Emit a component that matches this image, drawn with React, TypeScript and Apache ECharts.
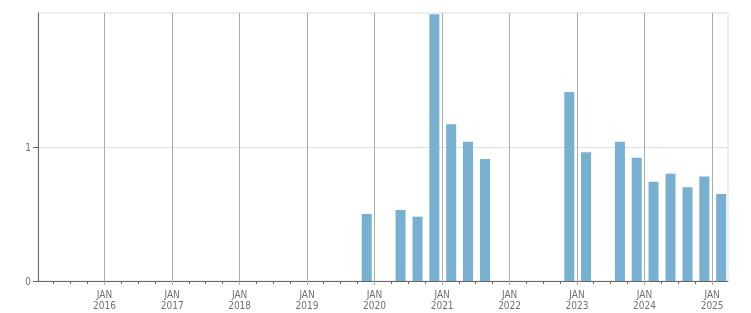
import React, { useEffect, useRef } from "react";
import * as echarts from "echarts";

const barDates = [
  "2019-11-20", "2020-05-21", "2020-08-21", "2020-11-20", "2021-02-19",
  "2021-05-21", "2021-08-21", "2022-11-20", "2023-02-19", "2023-08-21",
  "2023-11-20", "2024-02-19", "2024-05-21", "2024-08-21", "2024-11-20",
  "2025-02-19",
];
const barValues = [
  0.5, 0.53, 0.48, 1.99, 1.17, 1.04, 0.91, 1.41, 0.96, 1.04, 0.92, 0.74,
  0.8, 0.7, 0.78, 0.65,
];
const yearTicks = [2016, 2017, 2018, 2019, 2020, 2021, 2022, 2023, 2024, 2025];
const quarterMonths = [4, 7, 10];
const yTicks = [0, 1];
const axisMin = "2015-01-06";
const axisMax = "2025-03-28";

const toTs = (s: string) => {
  const [y, m, d] = s.split("-").map(Number);
  return new Date(y, m - 1, d).getTime();
};

export default function App() {
  const ref = useRef<HTMLDivElement>(null);
  useEffect(() => {
    if (!ref.current) return;
    const chart = echarts.init(ref.current, undefined, { renderer: "svg" });
    const minTs = toTs(axisMin);
    const maxTs = toTs(axisMax);
    const janTs = yearTicks.map((y) => new Date(y, 0, 1).getTime());
    const quarterTs: number[] = [];
    for (let y = 2015; y <= 2025; y++) {
      quarterMonths.forEach((m) => {
        const t = new Date(y, m - 1, 1).getTime();
        if (t > minTs && t < maxTs) quarterTs.push(t);
      });
    }
    const font = "'DejaVu Sans Condensed', 'DejaVu Sans', sans-serif";
    chart.setOption({
      animation: false,
      grid: {
        left: 38,
        right: 23,
        top: 13,
        bottom: 32,
        show: true,
        borderColor: "#dddddd",
        borderWidth: 1,
        backgroundColor: "transparent",
        containLabel: false,
      },
      xAxis: [
        {
          type: "value",
          min: minTs,
          max: maxTs,
          axisLine: { show: true, onZero: false, lineStyle: { color: "#666666", width: 1 } },
          axisTick: {
            show: true,
            customValues: janTs,
            length: 4,
            lineStyle: { color: "#aaaaaa" },
          },
          axisLabel: {
            show: true,
            customValues: janTs,
            formatter: (v: number) => "JAN\n" + new Date(v).getFullYear(),
            color: "#707070",
            fontFamily: font,
            fontSize: 10,
            lineHeight: 11,
            margin: 8,
            hideOverlap: false,
          },
          splitLine: { show: true, lineStyle: { color: "#acacac", width: 1 } },
        },
        {
          type: "value",
          min: minTs,
          max: maxTs,
          position: "bottom",
          gridIndex: 0,
          axisLine: { show: false, onZero: false },
          axisTick: {
            show: true,
            customValues: quarterTs,
            length: 3,
            lineStyle: { color: "#666666" },
          },
          axisLabel: { show: false },
          splitLine: { show: false },
        },
      ],
      yAxis: {
        type: "value",
        min: 0,
        max: 2,
        interval: 1,
        axisLine: { show: true, lineStyle: { color: "#666666", width: 1 } },
        axisTick: {
          show: true,
          customValues: yTicks,
          length: 5,
          lineStyle: { color: "#666666" },
        },
        axisLabel: {
          show: true,
          customValues: yTicks,
          color: "#707070",
          fontFamily: font,
          fontSize: 10,
          margin: 7,
        },
        splitLine: { show: true, lineStyle: { color: "#dddddd", width: 1 } },
      },
      series: [
        {
          type: "bar",
          xAxisIndex: 0,
          barWidth: 10,
          itemStyle: { color: "#78b0d2" },
          data: barDates.map((d, i) => [toTs(d), barValues[i]]),
        },
      ],
    });
    return () => chart.dispose();
  }, []);
  return (
    <div
      ref={ref}
      style={{ position: "fixed", left: 0, top: 0, width: 751, height: 313 }}
    />
  );
}
